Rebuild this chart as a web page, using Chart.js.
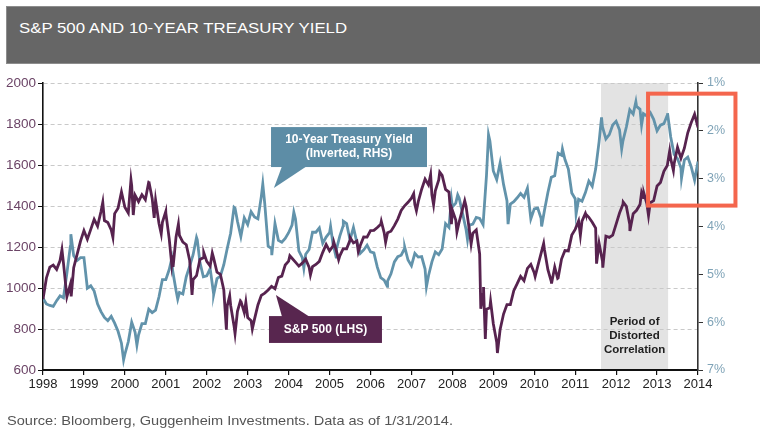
<!DOCTYPE html>
<html><head><meta charset="utf-8">
<script src="https://cdn.jsdelivr.net/npm/chart.js@4.4.1/dist/chart.umd.min.js"></script>
<style>
html,body{margin:0;padding:0;background:#fff;width:760px;height:434px;overflow:hidden;font-family:"Liberation Sans",Arial,sans-serif;}
#wrap{position:relative;width:760px;height:434px;}
#chart{position:absolute;left:0;top:0;}
#titlebar{position:absolute;left:6px;top:6px;width:754px;height:58px;background:#666;box-sizing:border-box;border:1px solid #8d8d8d;border-right:none;}
#title{position:absolute;left:19px;top:20px;color:#fff;font-size:15px;line-height:15px;white-space:nowrap;transform:scaleX(1.12);transform-origin:0 0;}
#source{position:absolute;left:7px;top:414px;color:#555;font-size:13px;line-height:13px;white-space:nowrap;transform:scaleX(1.12);transform-origin:0 0;}
</style></head>
<body>
<div id="wrap">
<canvas id="chart" width="760" height="434"></canvas>
<div id="titlebar"></div>
<div id="title">S&amp;P 500 AND 10-YEAR TREASURY YIELD</div>
<div id="source">Source: Bloomberg, Guggenheim Investments. Data as of 1/31/2014.</div>
</div>
<script>
// ---- data (month-end readings Jan 1998 .. Jan 2014) ----
const startYear = 1998;
const yearTicks = [1998,1999,2000,2001,2002,2003,2004,2005,2006,2007,2008,2009,2010,2011,2012,2013,2014];
const spxMonthly = [
945,1049,1102,1112,1091,1134,1121,957,1017,1099,1164,1229,
1280,1238,1286,1335,1302,1373,1329,1320,1283,1363,1389,1469,
1394,1366,1499,1452,1421,1455,1431,1518,1437,1429,1315,1320,
1366,1240,1160,1249,1256,1224,1211,1134,1041,1060,1139,1148,
1130,1107,1147,1077,1067,990,912,916,815,886,936,880,
856,841,848,917,964,975,990,1008,996,1051,1058,1112,
1131,1145,1126,1107,1121,1141,1102,1104,1115,1130,1174,1212,
1181,1204,1181,1157,1192,1191,1234,1220,1229,1207,1249,1248,
1280,1281,1295,1311,1270,1270,1277,1304,1336,1378,1401,1418,
1438,1407,1421,1482,1531,1503,1455,1474,1527,1549,1481,1468,
1379,1331,1323,1386,1400,1280,1267,1283,1166,969,896,903,
826,735,798,873,919,919,987,1021,1057,1036,1096,1115,
1074,1104,1169,1187,1089,1031,1102,1049,1141,1183,1181,1258,
1286,1327,1326,1364,1345,1321,1292,1219,1131,1253,1247,1258,
1312,1366,1408,1398,1310,1362,1379,1407,1441,1412,1416,1426,
1498,1515,1569,1598,1631,1606,1686,1633,1682,1757,1806,1848,
1783];
const spxExtraDates = ['1998-07-17','1998-10-08','1999-07-16','1999-10-15','2000-03-24','2000-04-14','2000-09-01','2000-10-18','2000-12-20','2001-01-30','2001-03-22','2001-04-04','2001-05-21','2001-09-21','2002-01-04','2002-03-19','2002-07-23','2002-08-22','2002-10-09','2002-11-27','2003-01-14','2003-03-11','2004-02-11','2004-08-12','2005-03-07','2005-04-20','2005-08-02','2005-10-13','2006-05-05','2006-06-13','2007-02-20','2007-03-14','2007-07-19','2007-08-15','2007-10-09','2008-01-22','2008-03-10','2008-05-19','2008-07-15','2008-10-10','2008-11-04','2008-11-20','2009-01-06','2009-03-06','2010-02-08','2010-04-23','2010-07-02','2010-08-26','2011-03-16','2011-05-02','2011-08-08','2011-10-03','2012-04-02','2012-06-01','2012-09-14','2012-10-05','2012-11-15','2013-05-21','2013-06-24'];
const spxExtraValues = [1187,959,1418,1247,1527,1356,1520,1342,1264,1373,1117,1103,1312,966,1172,1170,797,962,777,938,931,800,1157,1064,1225,1138,1245,1177,1325,1223,1460,1377,1553,1406,1565,1311,1273,1426,1214,899,1005,752,935,683,1056,1217,1022,1047,1257,1361,1119,1099,1419,1278,1466,1461,1353,1669,1573];

const ustMonthly = [
5.50,5.62,5.65,5.67,5.55,5.45,5.49,4.98,4.42,4.61,4.71,4.65,
4.65,5.29,5.24,5.35,5.62,5.78,5.90,5.97,5.88,6.02,6.19,6.44,
6.67,6.41,6.00,6.21,6.27,6.03,6.03,5.73,5.80,5.75,5.47,5.11,
5.11,4.90,4.92,5.34,5.38,5.41,5.05,4.83,4.59,4.23,4.75,5.05,
5.03,4.88,5.40,5.09,5.04,4.80,4.46,4.14,3.60,3.89,4.21,3.82,
3.96,3.69,3.80,3.84,3.37,3.52,4.41,4.46,3.94,4.29,4.33,4.25,
4.13,3.97,3.84,4.51,4.65,4.58,4.48,4.12,4.12,4.03,4.35,4.22,
4.13,4.36,4.48,4.20,3.98,3.94,4.28,4.02,4.33,4.56,4.49,4.39,
4.53,4.55,4.85,5.07,5.12,5.14,4.99,4.74,4.63,4.60,4.46,4.70,
4.82,4.56,4.64,4.63,4.89,5.03,4.74,4.53,4.59,4.47,3.94,4.02,
3.59,3.51,3.41,3.73,4.06,3.97,3.95,3.81,3.83,3.96,2.93,2.21,
2.84,3.02,2.67,3.12,3.46,3.53,3.48,3.40,3.31,3.39,3.20,3.84,
3.63,3.61,3.83,3.66,3.29,2.97,2.94,2.47,2.51,2.60,2.80,3.30,
3.42,3.43,3.47,3.29,3.05,3.16,2.80,2.23,1.92,2.17,2.08,1.88,
1.80,1.98,2.21,1.92,1.56,1.65,1.49,1.55,1.64,1.69,1.62,1.76,
2.00,1.88,1.85,1.67,2.13,2.49,2.58,2.78,2.61,2.55,2.75,3.03,
2.64];
const ustExtraDates = ['1998-10-05','2000-01-19','2000-05-16','2001-03-22','2001-05-15','2001-11-07','2002-04-01','2002-10-09','2003-06-13','2003-09-02','2004-03-16','2004-06-14','2005-02-09','2005-03-28','2005-06-01','2006-06-28','2006-12-01','2007-06-12','2008-01-22','2008-03-17','2008-06-13','2008-12-18','2009-06-10','2010-04-05','2010-10-08','2011-02-08','2011-09-22','2012-03-19','2012-07-24','2012-09-14','2013-05-02','2013-09-05'];
const ustExtraValues = [4.16,6.79,6.48,4.68,5.52,4.28,5.42,3.62,3.11,4.60,3.70,4.87,4.00,4.64,3.89,5.25,4.43,5.26,3.43,3.34,4.27,2.08,3.95,4.00,2.38,3.74,1.72,2.38,1.39,1.88,1.63,2.99];

// ---- annotations (in data units: years / S&P level) ----
const shadeRange = [2011.63, 2013.27];
const shadeLabel = ['Period of', 'Distorted', 'Correlation'];
const ustCallout = {text:['10-Year Treasury Yield','(Inverted, RHS)'], x:[2003.57,2007.38], y:[1785,1590], base:[2003.84,2004.45], tip:[2003.64,1488], textY:[1722,1654]};
const spxCallout = {text:['S&P 500 (LHS)'], x:[2003.52,2006.28], y:[863,732], base:[2003.84,2004.52], tip:[2003.69,966], textY:[795]};
const shadeTextY = [834,766,698];
const redBox = {x:[2012.78,2014.915], y:[1948,1402]};

// ---- build points ----
function dateToX(s){const [y,m,d]=s.split('-').map(Number);return y+(m-2)/12+d/365;}
function build(monthly, exDates, exVals){
  const pts = monthly.map((v,i)=>({x:startYear+i/12,y:v}));
  exDates.forEach((d,i)=>pts.push({x:dateToX(d),y:exVals[i]}));
  pts.sort((a,b)=>a.x-b.x);
  return pts;
}
const spxPoints = build(spxMonthly, spxExtraDates, spxExtraValues);
const ustPoints = build(ustMonthly, ustExtraDates, ustExtraValues);

const FONT = '"Liberation Sans", Arial, sans-serif';
const annot = {
  id:'annot',
  beforeDraw(c){
    const {ctx, chartArea:a, scales:{x}} = c;
    const x0=x.getPixelForValue(shadeRange[0]), x1=x.getPixelForValue(shadeRange[1]);
    ctx.save(); ctx.fillStyle='#e3e3e3'; ctx.fillRect(x0,a.top,x1-x0,a.bottom-a.top); ctx.restore();
  },
  afterDraw(c){
    const {ctx, scales:{x, yL}} = c;
    const X=v=>x.getPixelForValue(v), Y=v=>yL.getPixelForValue(v);
    ctx.save();
    function callout(o, fill){
      ctx.fillStyle=fill;
      ctx.fillRect(X(o.x[0]),Y(o.y[0]),X(o.x[1])-X(o.x[0]),Y(o.y[1])-Y(o.y[0]));
      const up = o.tip[1] > o.y[0];
      const by = up ? Y(o.y[0])+1 : Y(o.y[1])-1;
      ctx.beginPath();
      ctx.moveTo(X(o.base[0]), by);
      ctx.lineTo(X(o.tip[0]), Y(o.tip[1]));
      ctx.lineTo(X(o.base[1]), by);
      ctx.closePath(); ctx.fill();
      ctx.fillStyle='#fff'; ctx.font='bold 12px '+FONT; ctx.textAlign='center'; ctx.textBaseline='middle';
      const cx=(X(o.x[0])+X(o.x[1]))/2;
      o.text.forEach((t,i)=>ctx.fillText(t,cx,Y(o.textY[i])));
    }
    callout(ustCallout,'#5d8da6');
    callout(spxCallout,'#58264f');
    ctx.fillStyle='#1e1e1e'; ctx.font='bold 11.5px '+FONT; ctx.textAlign='center'; ctx.textBaseline='middle';
    const sx=(X(shadeRange[0])+X(shadeRange[1]))/2;
    shadeLabel.forEach((t,i)=>ctx.fillText(t,sx,Y(shadeTextY[i])));
    ctx.strokeStyle='#f4664d'; ctx.lineWidth=4;
    ctx.strokeRect(X(redBox.x[0]),Y(redBox.y[0]),X(redBox.x[1])-X(redBox.x[0]),Y(redBox.y[1])-Y(redBox.y[0]));
    ctx.restore();
  }
};

new Chart(document.getElementById('chart'), {
  type:'line',
  data:{datasets:[
    {label:'S&P 500 (LHS)', data:spxPoints, yAxisID:'yL', borderColor:'#57234f', borderWidth:2.8, pointRadius:0, tension:0, order:1},
    {label:'10-Year Treasury Yield (Inverted, RHS)', data:ustPoints, yAxisID:'yR', borderColor:'#6293ab', borderWidth:2.8, pointRadius:0, tension:0, order:2}
  ]},
  options:{
    responsive:false, animation:false, events:[],
    layout:{padding:{top:83,left:0,right:0,bottom:0}},
    plugins:{legend:{display:false}, tooltip:{enabled:false}},
    scales:{
      x:{type:'linear', min:yearTicks[0], max:yearTicks[yearTicks.length-1], position:'bottom',
        afterBuildTicks(s){s.ticks=yearTicks.map(v=>({value:v}));},
        ticks:{autoSkip:false, maxRotation:0, color:'#222', font:{family:FONT,size:13}, padding:2, callback:v=>String(v)},
        grid:{drawOnChartArea:false, tickLength:5, color:'#111', lineWidth:1.2},
        border:{color:'#111', width:2},
        afterFit(s){s.height=64;}},
      yL:{type:'linear', position:'left', min:600, max:2000,
        ticks:{stepSize:200, color:'#6b4466', font:{family:FONT,size:13.5}, padding:2, callback:v=>String(v)},
        grid:{color:'#c9c9c9', lineWidth:1, tickLength:5, tickColor:'#111'},
        border:{color:'#111', width:1.6, dash:[4,3]},
        afterFit(s){s.width=43;}},
      yR:{type:'linear', position:'right', reverse:true, min:1, max:7,
        ticks:{stepSize:1, color:'#7fa3b7', font:{family:FONT,size:12.5}, padding:4, callback:v=>v+'%'},
        grid:{drawOnChartArea:false, tickLength:5, color:'#333'},
        border:{color:'#333', width:1.6},
        afterFit(s){s.width=62;}}
    }
  },
  plugins:[annot]
});
</script>
</body></html>
